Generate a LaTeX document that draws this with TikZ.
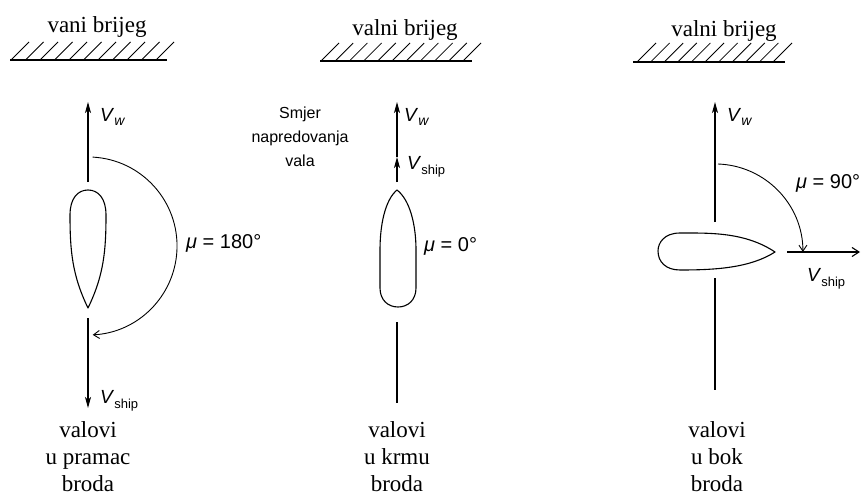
\documentclass[tikz,border=0pt]{standalone}
\usepackage{fontspec}
\setmainfont{Liberation Serif}
\setsansfont{Liberation Sans}
\usetikzlibrary{arrows.meta,positioning}
\tikzset{
  serif/.style={font=\fontsize{23}{27}\selectfont,align=center,inner sep=0pt},
  sanslab/.style={font=\sffamily\fontsize{20}{24}\selectfont,inner sep=0pt,anchor=west},
  vlab/.style={font=\sffamily\fontsize{19}{22}\selectfont,inner sep=0pt,anchor=west},
  ground/.style={line width=1.3pt},
  hatch/.style={line width=0.8pt},
  hull/.style={line width=1.1pt,line join=round},
  vec/.style={line width=1.1pt,-{Stealth[length=11pt,width=6pt,inset=3pt]}},
  angarr/.style={line width=0.9pt,-{Straight Barb[length=6pt,width=8pt]}},
  plainline/.style={line width=1.1pt}
}
\newcommand{\Vw}{\textit{V}\raisebox{-4pt}{\fontsize{14}{14}\selectfont\textit{w}}}
\newcommand{\Vship}{\textit{V}\raisebox{-5pt}{\fontsize{13}{13}\selectfont ship}}

\begin{document}
\begin{tikzpicture}[x=1pt,y=1pt]
  \useasboundingbox (0,0) rectangle (861,-497);

  % --- valovi u pramac ---
  \node[serif] (title1) at (97,-27) {vani brijeg};
  \draw[ground] (10,-60) -- (167,-60);
  \foreach \i in {0,...,10}
    \draw[hatch] (11+14.5*\i,-60) -- ++(18,18);

  \coordinate (w1s) at (88,-182);
  \coordinate (w1e) at (88,-102);
  \draw[vec] (w1s) -- (w1e);
  \node[vlab] (vw1) at (100,-117) {\Vw};

  \draw[hull] (88,-308) .. controls (72,-275) and (70,-250) .. (70,-215)
    .. controls (70,-198) and (78,-190) .. (88,-190)
    .. controls (98,-190) and (106,-198) .. (106,-215)
    .. controls (106,-250) and (104,-275) .. (88,-308) -- cycle;

  \coordinate (a1) at (92.7,-157.1);
  \draw[angarr] (a1) arc[start angle=87,end angle=-87,radius=89];
  \node[sanslab] (mu1) at (186,-243) {{\itshape μ} = 180°};

  \coordinate (s1s) at (88,-318);
  \coordinate (s1e) at (88,-408);
  \draw[vec] (s1s) -- (s1e);
  \node[vlab] (vs1) at (100,-401) {\Vship};

  \node[serif] (bot1) at (88,-457) {valovi\\u pramac\\broda};

  % --- valovi u krmu ---
  \node[serif] (title2) at (405,-30) {valni brijeg};
  \draw[ground] (320,-61) -- (472,-61);
  \foreach \i in {0,...,10}
    \draw[hatch] (321+14.2*\i,-61) -- ++(18,18);

  \node[font=\sffamily\fontsize{16}{24}\selectfont,align=center,inner sep=0pt]
    (smjer) at (300,-137) {Smjer\\napredovanja\\vala};

  \coordinate (w2s) at (397,-182);
  \coordinate (w2m) at (397,-157);
  \coordinate (w2e) at (397,-102);
  \draw[vec] (w2s) -- (w2m);
  \draw[vec] (w2m) -- (w2e);
  \node[vlab] (vw2) at (404,-117) {\Vw};
  \node[vlab] (vs2) at (407,-167) {\Vship};

  \draw[hull] (397,-190) .. controls (385,-200) and (380,-225) .. (380,-250)
    -- (380,-288) .. controls (380,-300) and (388,-307) .. (398,-307)
    .. controls (408,-307) and (416,-300) .. (416,-288)
    -- (416,-250) .. controls (416,-225) and (410,-200) .. (397,-190) -- cycle;
  \node[sanslab] (mu2) at (424,-246) {{\itshape μ} = 0°};

  \coordinate (l2s) at (397,-322);
  \coordinate (l2e) at (397,-403);
  \draw[plainline] (l2s) -- (l2e);

  \node[serif] (bot2) at (397,-457) {valovi\\u krmu\\broda};

  % --- valovi u bok ---
  \node[serif] (title3) at (724,-31) {valni brijeg};
  \draw[ground] (633,-62) -- (785,-62);
  \foreach \i in {0,...,10}
    \draw[hatch] (637+13.6*\i,-62) -- ++(19,19);

  \coordinate (w3s) at (715,-222);
  \coordinate (w3e) at (715,-102);
  \draw[vec] (w3s) -- (w3e);
  \node[vlab] (vw3) at (727,-117) {\Vw};

  \coordinate (a3) at (718,-164);
  \draw[angarr] (a3) arc[start angle=88,end angle=0,radius=88];
  \node[sanslab] (mu3) at (796,-183) {{\itshape μ} = 90°};

  \draw[hull] (775,-252) .. controls (745,-232) and (710,-233) .. (680,-233)
    .. controls (664,-233) and (658,-243) .. (658,-251)
    .. controls (658,-262) and (666,-270) .. (680,-270)
    .. controls (715,-270) and (750,-268) .. (775,-252) -- cycle;

  \coordinate (s3s) at (787,-252);
  \coordinate (s3e) at (860,-252);
  \draw[line width=1.1pt,-{Straight Barb[length=7pt,width=9pt]}] (s3s) -- (s3e);
  \node[vlab] (vs3) at (807,-279) {\Vship};

  \coordinate (l3s) at (715,-278);
  \coordinate (l3e) at (715,-390);
  \draw[plainline] (l3s) -- (l3e);

  \node[serif] (bot3) at (717,-457) {valovi\\u bok\\broda};
\end{tikzpicture}
\end{document}
